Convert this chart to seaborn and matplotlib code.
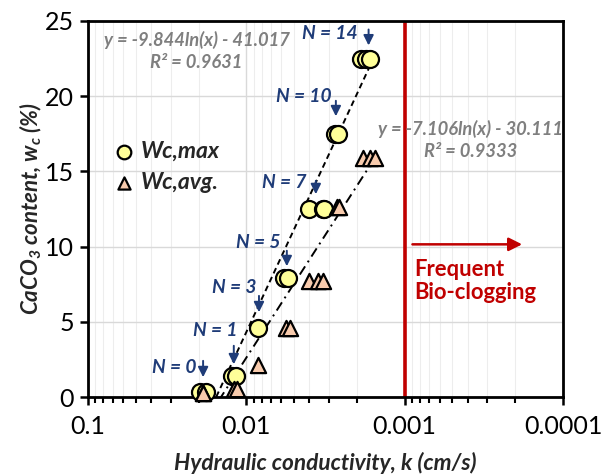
import numpy as np
import seaborn as sns
import matplotlib.pyplot as plt
from matplotlib.ticker import LogLocator, NullFormatter, FixedLocator

sns.set_theme(style='white')
plt.rcParams['font.family'] = ['Lato', 'DejaVu Sans']
plt.rcParams['mathtext.default'] = 'regular'

# values
max_k = [0.0197, 0.0181, 0.0124, 0.0117, 0.00849, 0.00578, 0.00545,
         0.00401, 0.00330, 0.00322, 0.00274, 0.00265, 0.00188, 0.00175, 0.00165]
wc_max = [0.3, 0.3, 1.4, 1.4, 4.6, 7.9, 7.9,
          12.5, 12.5, 12.5, 17.5, 17.5, 22.5, 22.5, 22.5]
avg_k = [0.0188, 0.0188, 0.0120, 0.0114, 0.00849, 0.00564, 0.00531,
         0.00403, 0.00354, 0.00328, 0.00267, 0.00260, 0.00184, 0.00165, 0.00155]
wc_avg = [0.25, 0.25, 0.5, 0.5, 2.1, 4.6, 4.6,
          7.7, 7.7, 7.7, 12.6, 12.6, 15.9, 15.9, 15.9]

# log trendlines y = a ln(x) + b
fit_max = (-9.844, -41.017, 0.9631)
fit_avg = (-7.106, -30.111, 0.9333)

n_labels = ['N = 0', 'N = 1', 'N = 3', 'N = 5', 'N = 7', 'N = 10', 'N = 14']
arrow_k = [0.01875, 0.0120, 0.00832, 0.00555, 0.00364, 0.00272, 0.00169]
arrow_top = [2.59, 3.59, 6.91, 9.91, 14.56, 19.88, 24.62]
arrow_tip = [1.13, 1.99, 5.45, 8.51, 13.30, 18.48, 23.19]
text_k = [0.0285, 0.01567, 0.01194, 0.00841, 0.00580, 0.00436, 0.00297]
text_y = [1.93, 4.39, 7.25, 10.24, 14.23, 20.01, 24.20]

navy = '#1F3C78'
red = '#C00000'
gray = '#7F7F7F'

fig = plt.figure(figsize=(6.01, 4.75), dpi=100)
ax = fig.add_axes([0.1464, 0.1642, 0.7904, 0.7916])

ax.set_xscale('log')
ax.set_xlim(0.1, 0.0001)
ax.set_ylim(0, 25)

# grid
ax.xaxis.set_major_locator(LogLocator(base=10, numticks=10))
ax.xaxis.set_minor_locator(LogLocator(base=10, subs=np.arange(2, 10), numticks=20))
ax.xaxis.set_minor_formatter(NullFormatter())
ax.yaxis.set_major_locator(FixedLocator([0, 5, 10, 15, 20, 25]))
ax.grid(True, which='major', color='#D9D9D9', linewidth=1.0)
ax.grid(True, which='minor', axis='x', color='#EDEDED', linewidth=0.8)
ax.set_axisbelow(True)

# trendlines
for ks, (a, b, _), ls in [(max_k, fit_max, (0, (3, 2))), (avg_k, fit_avg, (0, (5, 2.5, 1, 2.5)))]:
    xs = np.geomspace(min(ks), max(ks), 100)
    sns.lineplot(x=xs, y=a * np.log(xs) + b, ax=ax, color='black', linewidth=1.4,
                 linestyle=ls, zorder=2, legend=False)

sns.scatterplot(x=max_k, y=wc_max, ax=ax, marker='o', s=150, color='#FFFF99',
                edgecolor='black', linewidth=1.6, zorder=3, label='Wc,max', clip_on=False)
sns.scatterplot(x=avg_k, y=wc_avg, ax=ax, marker='^', s=120, color='#F8CBAD',
                edgecolor='black', linewidth=1.6, zorder=4, label='Wc,avg.', clip_on=False)

# frequent bio-clogging line
ax.axvline(0.001, color=red, linewidth=2.6, zorder=2)
ax.annotate('', xy=(0.000174, 10.15), xytext=(0.00093, 10.15),
            arrowprops=dict(arrowstyle='-|>', color=red, lw=1.8, mutation_scale=20))
ax.text(0.000869, 7.72, 'Frequent\nBio-clogging', color=red, fontsize=15.8,
        fontweight='bold', ha='left', va='center', linespacing=1.15)

# N labels with arrows
for lab, ak, at, ap, tk, ty in zip(n_labels, arrow_k, arrow_top, arrow_tip, text_k, text_y):
    ax.annotate('', xy=(ak, ap), xytext=(ak, at),
                arrowprops=dict(arrowstyle='-|>', color=navy, lw=1.4, mutation_scale=15))
    ax.text(tk, ty, lab, color=navy, fontsize=13.8, fontweight='bold',
            fontstyle='italic', ha='center', va='center')

# equations
eq_font = dict(color=gray, fontsize=13.2, fontweight='bold', fontstyle='italic',
               ha='center', va='center')
ax.text(0.02065, 23.74, f'y = {fit_max[0]}ln(x) - {-fit_max[1]}', **eq_font)
ax.text(0.02065, 22.27, f'R² = {fit_max[2]}', **eq_font)
ax.text(0.000385, 17.80, f'y = {fit_avg[0]}ln(x) - {-fit_avg[1]}', **eq_font)
ax.text(0.000385, 16.31, f'R² = {fit_avg[2]}', **eq_font)

leg = ax.legend(loc='upper left', bbox_to_anchor=(0.057, 0.682), frameon=False,
                borderpad=0, borderaxespad=0, handlelength=0.8, handletextpad=0.3,
                labelspacing=0.45, markerscale=0.8,
                prop=dict(weight='bold', style='italic', size=16.5))

for s in ax.spines.values():
    s.set_color('black')
    s.set_linewidth(2.0)
ax.tick_params(axis='both', which='major', direction='out', length=6, width=1.8,
               colors='black', labelsize=18, labelcolor='black')
ax.tick_params(axis='x', which='minor', direction='out', length=4, width=1.5,
               colors='black', bottom=True)
ax.tick_params(axis='x', which='major', bottom=True, pad=7)
ax.tick_params(axis='y', which='major', left=True, pad=4)
ax.set_xticks([0.1, 0.01, 0.001, 0.0001])
ax.set_xticklabels(['0.1', '0.01', '0.001', '0.0001'])

ax.set_xlabel('Hydraulic conductivity, k (cm/s)', fontsize=16.3, fontweight='bold',
              fontstyle='italic', labelpad=10)
ax.set_ylabel('CaCO$_3$ content, w$_c$ (%)', fontsize=16, fontweight='bold',
              fontstyle='italic', labelpad=1)

fig.savefig('out.png', dpi=100)
